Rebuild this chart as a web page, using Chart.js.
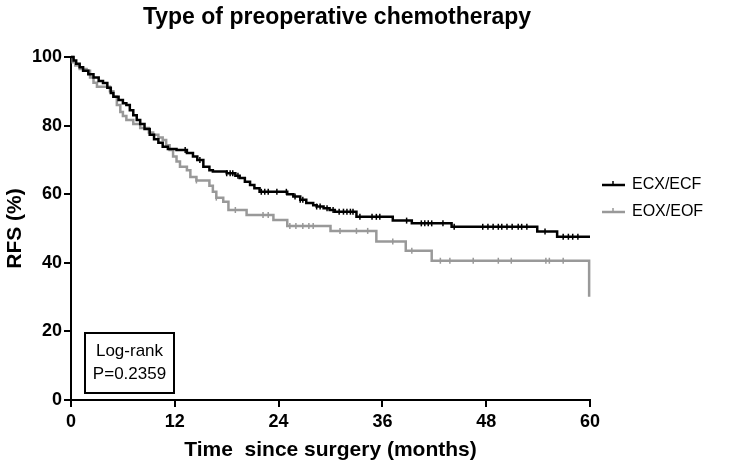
<!DOCTYPE html>
<html>
<head>
<meta charset="utf-8">
<script src="https://cdn.jsdelivr.net/npm/chart.js@4"></script>
<style>
  html, body { margin: 0; padding: 0; background: #fff; }
  #wrap { width: 751px; height: 466px; }
</style>
</head>
<body>
<div id="wrap"><canvas id="km"></canvas></div>
<script>
// Kaplan-Meier steps: [month, RFS % after the event]
var ecxTimes = [0, 0.3, 0.6, 1.0, 1.4, 2.0, 2.6, 3.2, 3.7, 4.2, 4.6, 4.9, 5.5, 6.0, 6.4, 6.8, 7.2, 7.6, 8.0, 8.5, 9.1, 9.6, 10.1, 10.6, 11.2, 12.2, 13.4, 14.1, 14.6, 15.3, 16.0, 16.4, 18.0, 19.0, 19.5, 20.1, 20.7, 21.2, 21.8, 25.0, 25.7, 26.5, 27.2, 28.0, 28.4, 29.2, 29.9, 30.5, 33.0, 37.2, 39.4, 44.0, 53.9, 56.2, 60];
var ecxSurv  = [100, 99, 98, 97, 96, 95, 94, 93, 92.4, 91, 89.5, 88.4, 87.5, 86.5, 86, 84.5, 83, 81.6, 80.5, 79, 77.3, 76, 75, 73.8, 73.2, 72.9, 72, 71, 70, 68, 67, 66.6, 66.1, 65.4, 64.7, 63.6, 62.7, 61.7, 60.7, 60.0, 59.3, 58.4, 57.4, 56.8, 56.4, 55.9, 55.4, 54.9, 53.4, 52.3, 51.5, 50.5, 49.1, 47.6, 47.6];
var eoxTimes = [0, 0.2, 0.5, 1.0, 1.8, 2.2, 2.6, 3.0, 4.5, 4.9, 5.3, 5.7, 6.0, 6.4, 7.2, 8.0, 9.0, 9.5, 10.1, 10.6, 11.0, 11.4, 11.8, 12.2, 12.6, 13.4, 13.8, 14.5, 16.0, 16.4, 16.8, 17.6, 18.2, 20.3, 23.4, 25.0, 30.0, 35.3, 38.7, 41.7, 59.9];
var eoxSurv  = [100, 98.5, 97.5, 96.5, 96, 94, 92.5, 91.3, 90, 88.4, 86, 84, 82.8, 81.6, 80.5, 79.3, 78, 77.3, 76.5, 75.8, 74.3, 72.9, 71, 69.5, 68, 67, 65, 64, 62.5, 60.7, 59, 57.8, 55.4, 53.9, 52.5, 50.7, 49.3, 46.2, 43.5, 40.6, 30.1];
// censored observations (months)
var ecxCensor = [13.2, 14.9, 18.0, 18.4, 18.7, 19.3, 22.0, 22.4, 22.8, 23.8, 24.9, 25.9, 26.5, 26.8, 28.4, 28.8, 29.6, 30.3, 31.0, 31.5, 31.9, 32.3, 32.6, 33.4, 34.8, 35.3, 35.7, 38.8, 40.5, 40.9, 41.3, 41.7, 43.0, 44.3, 47.6, 48.2, 48.8, 49.4, 49.8, 50.4, 51.0, 51.7, 52.1, 52.7, 54.8, 56.9, 57.5, 58.0, 58.6];
var eoxCensor = [14.5, 16.8, 19.0, 22.2, 22.8, 25.3, 26.0, 26.8, 27.5, 28.0, 31.1, 33.0, 34.3, 37.2, 39.4, 42.7, 43.8, 46.5, 49.4, 50.9, 54.9, 55.3, 56.9];
var xTicks = [0, 12, 24, 36, 48, 60];
var yTicks = [0, 20, 40, 60, 80, 100];
var groupNames = ["ECX/ECF", "EOX/EOF"];

var BLACK = "#000000";
var GREY = "#999999";

function steps(times, surv) {
  var pts = [];
  for (var i = 0; i < times.length; i++) pts.push({ x: times[i], y: surv[i] });
  return pts;
}
// survival level at time t
function levelAt(times, surv, t) {
  var s = surv[0];
  for (var i = 0; i < times.length; i++) { if (times[i] <= t) s = surv[i]; }
  return s;
}
function censorPts(times, surv, cens) {
  return cens.map(function (t) { return { x: t, y: levelAt(times, surv, t) }; });
}

var extras = {
  id: "extras",
  afterDraw: function (chart) {
    var c = chart.ctx;
    c.save();
    // title
    c.fillStyle = "#000";
    c.font = "bold 23px 'Liberation Sans', Arial, sans-serif";
    c.textAlign = "center";
    c.textBaseline = "middle";
    c.fillText("Type of preoperative chemotherapy", 337, 18);

    // legend
    var rows = [{ col: BLACK, y: 185 }, { col: GREY, y: 212 }];
    c.font = "16px 'Liberation Sans', Arial, sans-serif";
    c.textAlign = "left";
    rows.forEach(function (r, i) {
      c.strokeStyle = r.col;
      c.lineWidth = 2.5;
      c.beginPath(); c.moveTo(602, r.y); c.lineTo(625, r.y); c.stroke();
      c.lineWidth = 1.5;
      c.beginPath(); c.moveTo(613, r.y - 4); c.lineTo(613, r.y); c.stroke();
      c.fillStyle = "#000";
      c.fillText(groupNames[i], 632, r.y);
    });

    // log-rank box
    c.strokeStyle = "#000";
    c.lineWidth = 2;
    c.strokeRect(85, 333, 89, 60);
    c.textAlign = "center";
    c.font = "17px 'Liberation Sans', Arial, sans-serif";
    c.fillText("Log-rank", 129.5, 351);
    c.fillText("P=0.2359", 129.5, 374);
    c.restore();
  }
};

var tickFont = { family: "'Liberation Sans', Arial, sans-serif", size: 18, weight: "bold" };
var titleFont = { family: "'Liberation Sans', Arial, sans-serif", size: 21, weight: "bold" };

new Chart(document.getElementById("km"), {
  type: "line",
  data: {
    datasets: [
      { label: groupNames[0], data: steps(ecxTimes, ecxSurv), stepped: "before", borderColor: BLACK, borderWidth: 2.5, pointRadius: 0, fill: false, clip: false, order: 1 },
      { label: groupNames[1], data: steps(eoxTimes, eoxSurv), stepped: "before", borderColor: GREY, borderWidth: 2.5, pointRadius: 0, fill: false, clip: false, order: 2 },
      { type: "scatter", label: "c1", data: censorPts(ecxTimes, ecxSurv, ecxCensor), pointStyle: "line", rotation: 90, radius: 3, borderColor: BLACK, borderWidth: 1.5, order: 0 },
      { type: "scatter", label: "c2", data: censorPts(eoxTimes, eoxSurv, eoxCensor), pointStyle: "line", rotation: 90, radius: 3, borderColor: GREY, borderWidth: 1.5, order: 0 }
    ]
  },
  options: {
    responsive: true,
    maintainAspectRatio: false,
    animation: false,
    layout: { padding: { left: 0, right: 161, top: 57, bottom: 0 } },
    plugins: { legend: { display: false }, tooltip: { enabled: false }, title: { display: false } },
    scales: {
      x: {
        type: "linear", min: 0, max: 60,
        afterFit: function (s) { s.height = 66; },
        afterBuildTicks: function (s) { s.ticks = xTicks.map(function (v) { return { value: v }; }); },
        grid: { drawOnChartArea: false, drawTicks: true, tickLength: 7, color: "#000", lineWidth: 2 },
        border: { color: "#000", width: 2 },
        ticks: { color: "#000", font: tickFont, padding: 4, maxRotation: 0 },
        title: { display: true, text: "Time  since surgery (months)", color: "#000", font: titleFont, padding: { top: 2, bottom: 3 } }
      },
      y: {
        min: 0, max: 100,
        afterFit: function (s) { s.width = 71; },
        afterBuildTicks: function (s) { s.ticks = yTicks.map(function (v) { return { value: v }; }); },
        grid: { drawOnChartArea: false, drawTicks: true, tickLength: 7, color: "#000", lineWidth: 2 },
        border: { color: "#000", width: 2 },
        ticks: { color: "#000", font: tickFont, padding: 2 },
        title: { display: true, text: "RFS (%)", color: "#000", font: titleFont, padding: { top: 3, bottom: 4 } }
      }
    }
  },
  plugins: [extras]
});
</script>
</body>
</html>
